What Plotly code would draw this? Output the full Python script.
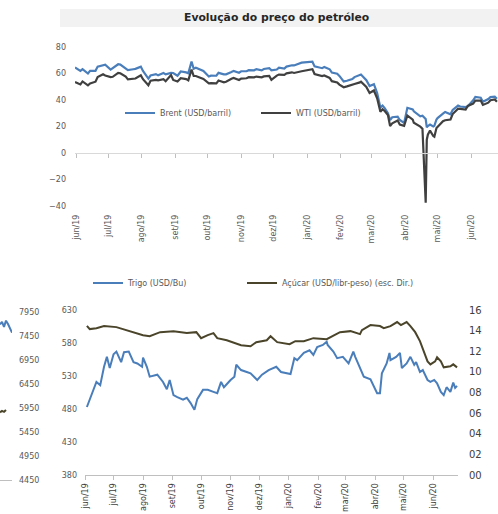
import plotly.graph_objects as go

# --- data ---

month_ticks = ['2019-06-01', '2019-07-01', '2019-08-01', '2019-09-01', '2019-10-01', '2019-11-01',
               '2019-12-01', '2020-01-01', '2020-02-01', '2020-03-01', '2020-04-01', '2020-05-01',
               '2020-06-01']
month_labels = ['jun/19', 'jul/19', 'ago/19', 'set/19', 'out/19', 'nov/19', 'dez/19',
                'jan/20', 'fev/20', 'mar/20', 'abr/20', 'mai/20', 'jun/20']

oil_dates = [
    '2019-05-31', '2019-06-05', '2019-06-07', '2019-06-12', '2019-06-14', '2019-06-19', '2019-06-21', '2019-06-26', '2019-06-28',
    '2019-07-03', '2019-07-05', '2019-07-10', '2019-07-12', '2019-07-17', '2019-07-19', '2019-07-24', '2019-07-26', '2019-07-31',
    '2019-08-02', '2019-08-07', '2019-08-09', '2019-08-14', '2019-08-16', '2019-08-21', '2019-08-23', '2019-08-28', '2019-08-30',
    '2019-09-03', '2019-09-06', '2019-09-11', '2019-09-13', '2019-09-16', '2019-09-18', '2019-09-20', '2019-09-25', '2019-09-27',
    '2019-10-02', '2019-10-04', '2019-10-09', '2019-10-11', '2019-10-16', '2019-10-18', '2019-10-23', '2019-10-25', '2019-10-30',
    '2019-11-01', '2019-11-06', '2019-11-08', '2019-11-13', '2019-11-15', '2019-11-20', '2019-11-22', '2019-11-27', '2019-11-29',
    '2019-12-04', '2019-12-06', '2019-12-11', '2019-12-13', '2019-12-18', '2019-12-20', '2019-12-27',
    '2020-01-03', '2020-01-06', '2020-01-08', '2020-01-10', '2020-01-15', '2020-01-17', '2020-01-22', '2020-01-24', '2020-01-29', '2020-01-31',
    '2020-02-04', '2020-02-07', '2020-02-12', '2020-02-14', '2020-02-19', '2020-02-20', '2020-02-25', '2020-02-28',
    '2020-03-03', '2020-03-06', '2020-03-09', '2020-03-11', '2020-03-13', '2020-03-16', '2020-03-18', '2020-03-20', '2020-03-25', '2020-03-27', '2020-03-31',
    '2020-04-02', '2020-04-03', '2020-04-08', '2020-04-09', '2020-04-15', '2020-04-17', '2020-04-20', '2020-04-21', '2020-04-22', '2020-04-24', '2020-04-27', '2020-04-28', '2020-04-30',
    '2020-05-01', '2020-05-06', '2020-05-08', '2020-05-13', '2020-05-15', '2020-05-20', '2020-05-22', '2020-05-27', '2020-05-29',
    '2020-06-03', '2020-06-05', '2020-06-10', '2020-06-12', '2020-06-17', '2020-06-19', '2020-06-23', '2020-06-25',
]

brent = [
    64.5, 62.0, 63.3, 60.0, 62.0, 62.0, 65.2, 66.5, 66.6,
    63.0, 64.2, 67.0, 66.7, 63.7, 62.5, 63.2, 63.5, 65.2,
    61.9, 56.2, 58.5, 59.5, 58.6, 60.3, 59.3, 60.5, 60.4,
    58.3, 61.5, 60.8, 60.2, 69.0, 63.6, 64.3, 62.4, 61.9,
    57.7, 58.4, 58.3, 60.5, 59.4, 59.4, 61.2, 62.0, 60.6,
    61.7, 61.7, 62.5, 62.4, 63.3, 62.4, 63.4, 64.1, 62.4,
    63.0, 64.4, 63.7, 65.2, 66.2, 66.1, 68.2,
    68.6, 68.9, 65.4, 65.0, 64.0, 64.9, 63.2, 60.7, 59.8, 58.2,
    54.0, 54.5, 55.8, 57.3, 59.1, 59.3, 55.0, 50.5,
    51.9, 45.3, 34.4, 35.8, 33.9, 30.1, 24.9, 27.0, 27.4, 24.9, 22.7,
    29.9, 34.1, 32.8, 31.5, 27.7, 28.1, 25.6, 19.3, 20.4, 21.4, 20.0, 20.5, 25.3,
    26.4, 29.7, 31.0, 29.2, 32.5, 35.8, 35.1, 34.7, 35.3,
    39.8, 42.3, 41.7, 38.7, 40.7, 42.2, 42.6, 41.0,
]

wti = [
    53.5, 51.7, 54.0, 51.1, 52.5, 53.8, 57.4, 59.4, 58.5,
    57.3, 57.5, 60.4, 60.2, 57.6, 55.6, 55.9, 56.2, 58.6,
    55.7, 51.1, 54.5, 55.2, 54.9, 55.7, 54.2, 58.8, 55.1,
    53.9, 56.5, 55.8, 54.9, 62.9, 58.1, 58.1, 56.5, 55.9,
    52.6, 52.8, 52.6, 54.7, 53.4, 53.8, 56.0, 56.7, 55.1,
    56.2, 56.4, 57.2, 57.1, 57.7, 57.1, 57.8, 58.1, 55.2,
    58.4, 59.2, 59.0, 60.1, 60.9, 60.4, 61.7,
    63.0, 63.3, 59.6, 59.0, 58.0, 58.5, 56.7, 54.2, 53.3, 51.6,
    49.6, 50.3, 51.2, 52.1, 53.3, 53.8, 49.9, 45.3,
    47.2, 41.3, 31.1, 33.0, 31.7, 28.7, 20.4, 22.4, 24.5, 21.5, 20.5,
    25.3, 28.3, 25.1, 22.8, 19.9, 18.3, -37.6, 10.0, 13.8, 16.9, 12.8, 12.3, 18.8,
    19.8, 24.0, 24.7, 25.3, 29.4, 33.5, 33.3, 32.8, 35.5,
    37.3, 39.6, 39.6, 36.3, 38.0, 39.8, 40.4, 38.7,
]

wheat_dates = [
    '2019-06-03', '2019-06-10', '2019-06-13', '2019-06-17', '2019-06-21', '2019-06-24', '2019-06-27',
    '2019-07-01', '2019-07-04', '2019-07-09', '2019-07-12', '2019-07-17', '2019-07-22', '2019-07-26', '2019-07-31',
    '2019-08-01', '2019-08-05', '2019-08-08', '2019-08-16', '2019-08-22', '2019-08-26', '2019-08-29',
    '2019-09-02', '2019-09-06', '2019-09-12', '2019-09-16', '2019-09-20', '2019-09-24', '2019-09-27',
    '2019-10-03', '2019-10-08', '2019-10-14', '2019-10-18', '2019-10-22', '2019-10-25',
    '2019-11-01', '2019-11-05', '2019-11-07', '2019-11-12', '2019-11-18', '2019-11-22', '2019-11-29',
    '2019-12-04', '2019-12-11', '2019-12-19', '2019-12-24',
    '2020-01-03', '2020-01-07', '2020-01-10', '2020-01-17', '2020-01-23', '2020-01-27', '2020-01-31',
    '2020-02-06', '2020-02-10', '2020-02-11', '2020-02-17', '2020-02-21', '2020-02-27',
    '2020-03-04', '2020-03-09', '2020-03-11', '2020-03-16', '2020-03-20', '2020-03-27', '2020-03-31',
    '2020-04-03', '2020-04-06', '2020-04-08', '2020-04-13', '2020-04-16', '2020-04-17', '2020-04-23', '2020-04-27', '2020-04-29',
    '2020-05-04', '2020-05-08', '2020-05-12', '2020-05-14', '2020-05-18', '2020-05-21', '2020-05-26', '2020-05-29',
    '2020-06-02', '2020-06-05', '2020-06-09', '2020-06-12', '2020-06-15', '2020-06-19', '2020-06-22', '2020-06-24', '2020-06-26',
]

wheat = [
    483, 512, 521, 516, 544, 559, 542,
    563, 567, 551, 566, 567, 551, 549, 544,
    558, 544, 529, 532, 521, 510, 524,
    501, 498, 494, 497, 489, 479, 495,
    509, 509, 506, 504, 521, 513,
    524, 529, 547, 539, 536, 534, 524,
    532, 539, 544, 536,
    533, 557, 554, 565, 569, 562, 574,
    577, 582, 577, 567, 557, 559,
    549, 567, 559, 542, 529, 525, 513,
    504, 504, 534, 549, 565, 554, 559, 565, 542,
    549, 559, 547, 551, 536, 539, 524, 521,
    524, 519, 506, 501, 513, 506, 520, 512, 515,
]

sugar_dates = [
    '2019-06-03', '2019-06-06', '2019-06-13', '2019-06-21',
    '2019-07-04', '2019-07-22',
    '2019-08-01', '2019-08-08', '2019-08-19',
    '2019-09-02', '2019-09-16', '2019-09-26',
    '2019-10-01', '2019-10-08', '2019-10-14', '2019-10-18', '2019-10-28',
    '2019-11-12', '2019-11-22', '2019-11-28',
    '2019-12-09', '2019-12-13', '2019-12-20',
    '2020-01-02', '2020-01-08', '2020-01-17', '2020-01-27',
    '2020-02-10', '2020-02-14', '2020-02-24',
    '2020-03-06', '2020-03-16', '2020-03-18', '2020-03-27',
    '2020-04-06', '2020-04-10', '2020-04-17', '2020-04-24', '2020-04-28',
    '2020-05-04', '2020-05-08', '2020-05-13', '2020-05-18', '2020-05-22', '2020-05-26', '2020-05-29',
    '2020-06-03', '2020-06-05', '2020-06-09', '2020-06-12', '2020-06-19', '2020-06-22', '2020-06-26',
]

sugar = [
    14.47, 14.15, 14.24, 14.44,
    14.34, 13.85,
    13.56, 13.46, 13.85,
    13.95, 13.76, 13.85,
    13.27, 13.56, 13.76, 13.27, 13.07,
    12.58, 12.49, 12.88,
    13.07, 13.46, 12.88,
    12.68, 12.98, 12.98, 13.27,
    13.17, 13.36, 13.85,
    13.95, 13.66, 14.05, 14.54,
    14.44, 14.24, 14.44, 14.83, 14.54,
    14.83, 14.44, 13.85, 12.98, 11.90, 11.02, 10.73,
    11.02, 11.41, 11.02, 10.44, 10.54, 10.73, 10.44,
]

# right edge of the neighbouring (cut off) chart
frag_x = [0, 1, 2, 3, 4, 5, 6]
frag_blue = [7690, 7745, 7640, 7770, 7700, 7600, 7520]
frag_dark_x = [0, 1, 2, 3]
frag_dark = [5860, 5890, 5870, 5910]

# --- layout helpers (pixel -> paper) ---
W, H = 498, 514


def px(x):
    return x / W


def py(y):
    return 1 - y / H


BLUE = '#4a7ebb'
GREY = '#404040'
OLIVE = '#4a452a'
LABEL = '#595959'
AXIS = '#bfbfbf'
FONT = 'DejaVu Sans'

fig = go.Figure()

# top chart: oil
fig.add_trace(go.Scatter(x=oil_dates, y=brent, mode='lines', name='Brent (USD/barril)',
                         line=dict(color=BLUE, width=2.2), xaxis='x', yaxis='y', legend='legend'))
fig.add_trace(go.Scatter(x=oil_dates, y=wti, mode='lines', name='WTI (USD/barril)',
                         line=dict(color=GREY, width=2.2), xaxis='x', yaxis='y', legend='legend2'))
# empty trace so the zero-line axis gets drawn
fig.add_trace(go.Scatter(x=[], y=[], xaxis='x5', yaxis='y', showlegend=False, hoverinfo='skip'))

# bottom chart: wheat & sugar
fig.add_trace(go.Scatter(x=wheat_dates, y=wheat, mode='lines', name='Trigo (USD/Bu)',
                         line=dict(color=BLUE, width=2), xaxis='x2', yaxis='y2', legend='legend3'))
fig.add_trace(go.Scatter(x=sugar_dates, y=sugar, mode='lines', name='Açúcar (USD/libr-peso) (esc. Dir.)',
                         line=dict(color=OLIVE, width=2), xaxis='x2', yaxis='y3', legend='legend4'))

# cut-off chart on the left
fig.add_trace(go.Scatter(x=frag_x, y=frag_blue, mode='lines', showlegend=False,
                         line=dict(color=BLUE, width=2), xaxis='x3', yaxis='y4'))
fig.add_trace(go.Scatter(x=frag_dark_x, y=frag_dark, mode='lines', showlegend=False,
                         line=dict(color=OLIVE, width=2), xaxis='x3', yaxis='y4'))

tick_font = dict(family=FONT, size=8, color=LABEL)


def legend_at(x, y):
    return dict(orientation='h', x=px(x), y=py(y), xanchor='left', yanchor='middle',
                bgcolor='rgba(0,0,0,0)', font=dict(family=FONT, size=8, color=LABEL),
                itemwidth=30)


fig.update_layout(
    width=W, height=H, autosize=False,
    margin=dict(l=0, r=0, t=0, b=0, autoexpand=False),
    paper_bgcolor='white', plot_bgcolor='rgba(0,0,0,0)',
    font=dict(family=FONT, size=8, color=LABEL),
    hovermode=False,
    xaxis=dict(domain=[px(75), 1], anchor='y', type='date', automargin=False,
               range=['2019-05-31', '2020-06-26'],
               tickvals=month_ticks, ticktext=month_labels, tickangle=-90,
               tickfont=tick_font, ticklabelstandoff=6,
               showgrid=False, showline=False, zeroline=False, ticks=''),
    xaxis5=dict(overlaying='x', anchor='free', position=py(153), type='date', automargin=False,
                range=['2019-05-31', '2020-06-26'],
                tickvals=month_ticks, showticklabels=False,
                ticks='outside', ticklen=4, tickcolor=AXIS,
                showline=True, linecolor='#d9d9d9', linewidth=1, showgrid=False, zeroline=False),
    yaxis=dict(domain=[py(206), py(47)], anchor='x', range=[-40, 80], dtick=20, automargin=False,
               tickfont=tick_font, ticklabelstandoff=8,
               showgrid=False, showline=False, zeroline=False, ticks=''),
    xaxis2=dict(domain=[px(85), px(458)], anchor='y2', type='date', automargin=False,
                range=['2019-06-01', '2020-06-27'],
                tickvals=month_ticks, ticktext=month_labels, tickangle=-90,
                tickfont=dict(family=FONT, size=8, color=GREY),
                ticks='outside', ticklen=4, tickcolor=AXIS,
                showline=True, linecolor=AXIS, linewidth=1, showgrid=False, zeroline=False),
    yaxis2=dict(domain=[py(475), py(310)], anchor='x2', range=[380, 630], tick0=380, dtick=50,
                automargin=False, tickfont=tick_font, ticklabelstandoff=7,
                showgrid=False, showline=False, zeroline=False, ticks=''),
    yaxis3=dict(overlaying='y2', anchor='x2', side='right', range=[0, 16], tick0=0, dtick=2,
                automargin=False, tickformat='02d', tickfont=dict(family=FONT, size=10, color=GREY),
                ticklabelstandoff=10,
                showgrid=False, showline=False, zeroline=False, ticks=''),
    xaxis3=dict(domain=[0, px(12)], anchor='y4', range=[0, 6], automargin=False,
                showticklabels=False, ticks='', showgrid=False, zeroline=False,
                showline=True, linecolor=AXIS, linewidth=1),
    yaxis4=dict(domain=[py(480), py(312)], anchor='x3', side='right', range=[4450, 7950],
                tick0=4450, dtick=500, automargin=False,
                tickfont=tick_font, ticklabelstandoff=6,
                showgrid=False, showline=False, zeroline=False, ticks=''),
    legend=legend_at(120, 113),
    legend2=legend_at(256, 113),
    legend3=legend_at(88, 283),
    legend4=legend_at(242, 283),
    shapes=[dict(type='rect', xref='paper', yref='paper', x0=px(60), x1=1, y0=py(27), y1=py(9),
                 fillcolor='#f2f2f2', line=dict(width=0), layer='below')],
    annotations=[dict(text='<b>Evolução do preço do petróleo</b>', xref='paper', yref='paper',
                      x=px(276), y=py(18), xanchor='center', yanchor='middle', showarrow=False,
                      font=dict(family=FONT, size=10.8, color='#262626'))],
)

# drop the default 8px body margin so the figure sits at the page corner
fig.write_html("out.html", config={'displayModeBar': False},
               post_script="document.body.style.margin='0';")
